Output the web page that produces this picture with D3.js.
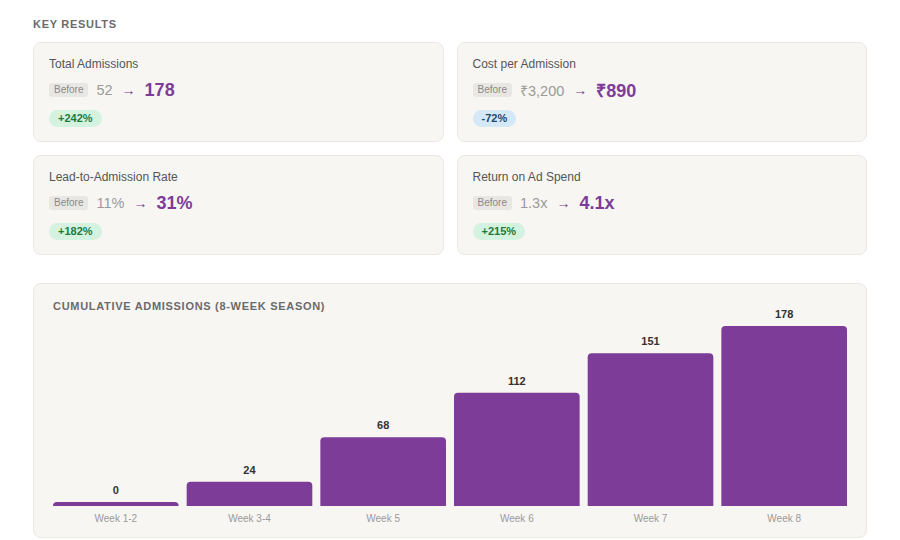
<!DOCTYPE html>
<html>
<head>
<meta charset="utf-8">
<script src="https://cdn.jsdelivr.net/npm/d3@7"></script>
<style>
  body {
    margin: 0;
    background: #fff;
    font-family: "Liberation Sans", Arial, Helvetica, sans-serif;
  }
  .wrap {
    position: relative;
    width: 900px;
    height: 540px;
  }
  .heading {
    position: absolute;
    left: 33px;
    top: 18px;
    font-size: 11px;
    font-weight: bold;
    letter-spacing: 0.7px;
    color: #6b6b6b;
  }
  .grid {
    position: absolute;
    left: 33px;
    top: 42px;
    width: 834px;
    display: grid;
    grid-template-columns: 1fr 1fr;
    column-gap: 13px;
    row-gap: 13px;
  }
  .card {
    box-sizing: border-box;
    height: 100px;
    background: #f8f6f3;
    border: 1px solid #ebe7e2;
    border-radius: 8px;
    padding: 14px 15px;
  }
  .card .title {
    font-size: 12px;
    color: #555;
    line-height: 15px;
  }
  .card .row {
    display: flex;
    align-items: center;
    margin-top: 7px;
    height: 22px;
  }
  .before {
    font-size: 10px;
    color: #8a8a8a;
    background: #e9e7e4;
    border-radius: 3px;
    padding: 1px 5px;
    line-height: 12px;
    margin-right: 8px;
  }
  .old {
    font-size: 14.5px;
    color: #9a9a9a;
  }
  .arrow {
    font-size: 14px;
    color: #6e3a86;
    margin: 0 9px 0 9px;
  }
  .new {
    font-size: 18px;
    font-weight: bold;
    color: #7d3c98;
  }
  .badge {
    display: inline-block;
    margin-top: 9px;
    font-size: 11px;
    font-weight: bold;
    border-radius: 9px;
    padding: 2px 9px;
    line-height: 13px;
  }
  .badge.up { background: #d3f2df; color: #1f7a3e; }
  .badge.down { background: #d5e8f7; color: #22486b; }
  .chartcard {
    position: absolute;
    left: 33px;
    top: 283px;
    width: 834px;
    height: 255px;
    box-sizing: border-box;
    background: #f8f6f3;
    border: 1px solid #ebe7e2;
    border-radius: 8px;
  }
  .chartcard svg { position: absolute; left: -1px; top: -1px; }
</style>
</head>
<body>
<div class="wrap">
  <div class="heading">KEY RESULTS</div>
  <div class="grid" id="grid"></div>
  <div class="chartcard" id="chart"></div>
</div>
<script>
// metric cards
const metricNames = ["Total Admissions", "Cost per Admission", "Lead-to-Admission Rate", "Return on Ad Spend"];
const beforeValues = ["52", "₹3,200", "11%", "1.3x"];
const afterValues = ["178", "₹890", "31%", "4.1x"];
const changeLabels = ["+242%", "-72%", "+182%", "+215%"];

// bar chart
const weeks = ["Week 1-2", "Week 3-4", "Week 5", "Week 6", "Week 7", "Week 8"];
const admissions = [0, 24, 68, 112, 151, 178];

const cards = d3.select("#grid")
  .selectAll(".card")
  .data(metricNames)
  .enter()
  .append("div")
  .attr("class", "card");

cards.append("div").attr("class", "title").text((d) => d);

const row = cards.append("div").attr("class", "row");
row.append("span").attr("class", "before").text("Before");
row.append("span").attr("class", "old").text((d, i) => beforeValues[i]);
row.append("span").attr("class", "arrow").text("→");
row.append("span").attr("class", "new").text((d, i) => afterValues[i]);

cards.append("div")
  .append("span")
  .attr("class", (d, i) => "badge " + (changeLabels[i].startsWith("-") ? "down" : "up"))
  .text((d, i) => changeLabels[i]);

// chart
const width = 834,
  height = 255;

const svg = d3.select("#chart")
  .append("svg")
  .attr("width", width)
  .attr("height", height);

svg.append("text")
  .attr("x", 20)
  .attr("y", 27)
  .text("CUMULATIVE ADMISSIONS (8-WEEK SEASON)")
  .style("font-size", "11px")
  .style("font-weight", "bold")
  .style("letter-spacing", "0.7px")
  .style("fill", "#6b6b6b");

const xScale = d3.scaleBand()
  .domain(weeks)
  .range([20, 814])
  .paddingInner(0.06)
  .paddingOuter(0);

const yScale = d3.scaleLinear()
  .domain([0, d3.max(admissions)])
  .range([223, 43]);

const minH = 4,
  r = 4;

const barTop = (v) => Math.min(yScale(v), yScale(0) - minH);

const barPath = (d, i) => {
  const x0 = xScale(weeks[i]),
    x1 = x0 + xScale.bandwidth(),
    y0 = barTop(d),
    y1 = yScale(0);
  return "M" + x0 + "," + y1 +
    "V" + (y0 + r) +
    "Q" + x0 + "," + y0 + " " + (x0 + r) + "," + y0 +
    "H" + (x1 - r) +
    "Q" + x1 + "," + y0 + " " + x1 + "," + (y0 + r) +
    "V" + y1 + "Z";
};

svg.selectAll(".bar")
  .data(admissions)
  .enter()
  .append("path")
  .attr("class", "bar")
  .attr("d", barPath)
  .style("fill", "#7d3c98");

svg.selectAll(".val")
  .data(admissions)
  .enter()
  .append("text")
  .attr("class", "val")
  .attr("x", (d, i) => xScale(weeks[i]) + xScale.bandwidth() / 2)
  .attr("y", (d) => barTop(d) - 8)
  .attr("text-anchor", "middle")
  .text((d) => d)
  .style("font-size", "11px")
  .style("font-weight", "bold")
  .style("fill", "#333");

const xAxis = d3.axisBottom(xScale).tickSize(0).tickPadding(9);

svg.append("g")
  .attr("transform", "translate(0," + yScale(0) + ")")
  .call(xAxis)
  .call((g) => g.select(".domain").remove())
  .selectAll("text")
  .style("font-family", "'Liberation Sans', Arial, sans-serif")
  .style("font-size", "10px")
  .style("fill", "#9a9a9a");
</script>
</body>
</html>
